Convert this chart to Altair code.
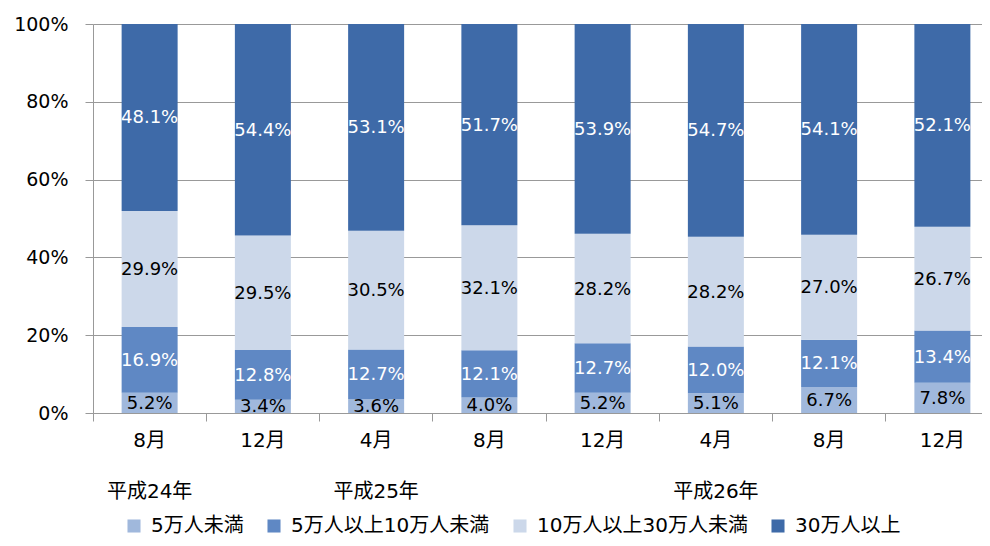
import altair as alt
import pandas as pd

keys = ["H24-8", "H24-12", "H25-4", "H25-8", "H25-12", "H26-4", "H26-8", "H26-12"]
months = ["8月", "12月", "4月", "8月", "12月", "4月", "8月", "12月"]
years = ["平成24年", "", "平成25年", "", "", "平成26年", "", ""]
series = ["5万人未満", "5万人以上10万人未満", "10万人以上30万人未満", "30万人以上"]
s1 = [5.2, 3.4, 3.6, 4.0, 5.2, 5.1, 6.7, 7.8]
s2 = [16.9, 12.8, 12.7, 12.1, 12.7, 12.0, 12.1, 13.4]
s3 = [29.9, 29.5, 30.5, 32.1, 28.2, 28.2, 27.0, 26.7]
s4 = [48.1, 54.4, 53.1, 51.7, 53.9, 54.7, 54.1, 52.1]
colors = ["#A0B8DC", "#5F88C4", "#CCD8EA", "#3E6AA8"]

FONT = "'DejaVu Sans', 'Noto Sans CJK JP', sans-serif"

rows = []
for si, (name, vals) in enumerate(zip(series, [s1, s2, s3, s4])):
    for k, v in zip(keys, vals):
        rows.append({"key": k, "series": name, "order": si, "value": v,
                     "label": f"{v:.1f}%"})
df = pd.DataFrame(rows)
ydf = pd.DataFrame({"key": keys, "year": years})

month_expr = "{" + ",".join(f"'{k}':'{m}'" for k, m in zip(keys, months)) + "}[datum.value]"

W = 889
H = 389
band_range = [0, 906]

x_enc = alt.X("key:N", sort=keys,
              scale=alt.Scale(range=band_range, paddingInner=0, paddingOuter=0),
              axis=alt.Axis(title=None, labelAngle=0, bandPosition=0,
                            labelExpr=month_expr, labelFontSize=20, labelColor="#000",
                            labelPadding=9, tickSize=8, tickColor="#999",
                            domainColor="#999", grid=False, labelFont=FONT))

bars = alt.Chart(df).mark_bar(size=56).encode(
    x=x_enc,
    y=alt.Y("value:Q", stack="normalize",
            scale=alt.Scale(domain=[0, 1]),
            axis=alt.Axis(title=None, format="%", values=[0, 0.2, 0.4, 0.6, 0.8, 1.0],
                          labelFontSize=19, labelColor="#000", labelPadding=17,
                          tickSize=8, tickColor="#999", domainColor="#999",
                          gridColor="#999", labelFont=FONT)),
    color=alt.Color("series:N", sort=series,
                    scale=alt.Scale(domain=series, range=colors),
                    legend=alt.Legend(title=None, orient="none", direction="horizontal",
                                      legendX=31, legendY=492, symbolType="square",
                                      symbolSize=170, symbolStrokeWidth=0,
                                      labelFontSize=20, labelFont=FONT, labelColor="#000",
                                      labelLimit=0, columnPadding=20, labelOffset=7)),
    order=alt.Order("order:Q", sort="ascending"),
)

stacked = alt.Chart(df).transform_stack(
    stack="value", groupby=["key"], as_=["y0", "y1"], offset="normalize",
    sort=[alt.SortField("order", order="ascending")]
).transform_calculate(mid="(datum.y0 + datum.y1) / 2")

text_black = stacked.transform_filter("datum.order % 2 == 0").mark_text(
    fontSize=18, font=FONT, color="#000", baseline="middle", dy=1
).encode(x=alt.X("key:N", sort=keys), y=alt.Y("mid:Q"), text="label:N")

text_white = stacked.transform_filter("datum.order % 2 == 1").mark_text(
    fontSize=18, font=FONT, color="#fff", baseline="middle", dy=1
).encode(x=alt.X("key:N", sort=keys), y=alt.Y("mid:Q"), text="label:N")

year_text = alt.Chart(ydf).mark_text(
    fontSize=20, font=FONT, color="#000", baseline="middle"
).encode(x=alt.X("key:N", sort=keys), y=alt.value(H + 79), text="year:N")

chart = alt.layer(bars, text_black, text_white, year_text).properties(
    width=W, height=H,
    autosize=alt.AutoSizeParams(type="none"),
    padding={"left": 85, "top": 16, "right": 0, "bottom": 125},
).configure_view(stroke=None)

chart.save("out.html", embed_options={"renderer": "svg", "actions": False})
